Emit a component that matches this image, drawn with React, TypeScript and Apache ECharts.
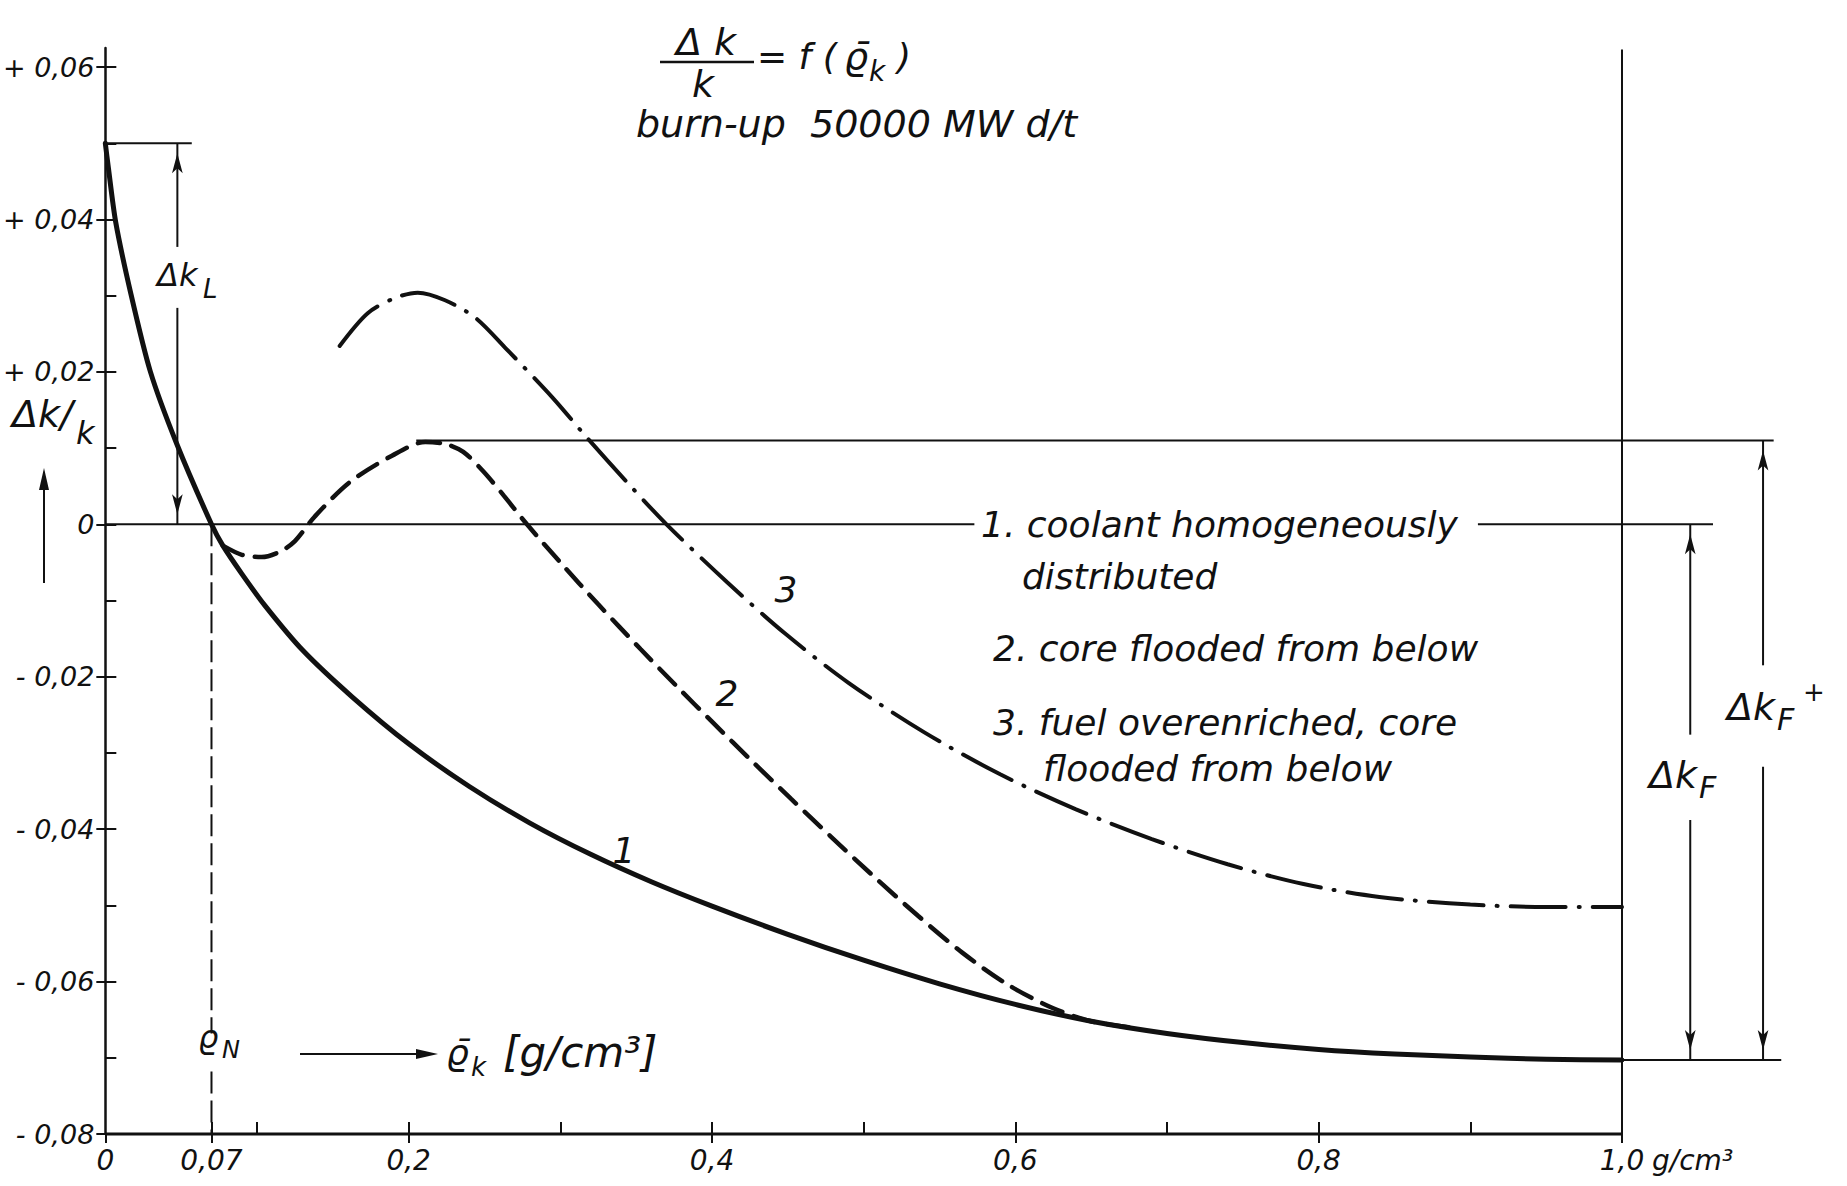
import React, { useEffect, useRef } from 'react';
import * as echarts from 'echarts';

// ---- Data ----
const rho1 = [0, 0.002, 0.0068, 0.0169, 0.0296, 0.047, 0.07, 0.0775, 0.09, 0.105, 0.13, 0.1625, 0.2, 0.24, 0.28, 0.32, 0.36, 0.4, 0.45, 0.5, 0.55, 0.6, 0.65, 0.7, 0.75, 0.8, 0.85, 0.9, 0.95, 1.0];
const dk1 = [0.05, 0.0468, 0.0397, 0.0302, 0.0201, 0.0106, 0, -0.0028, -0.0065, -0.0106, -0.0165, -0.0226, -0.0288, -0.0344, -0.0392, -0.0433, -0.0469, -0.0501, -0.0538, -0.0572, -0.0603, -0.063, -0.0652, -0.0668, -0.068, -0.0689, -0.0695, -0.0699, -0.0702, -0.0703];

const rho2 = [0.0775, 0.09, 0.103, 0.115, 0.125, 0.138, 0.161, 0.189, 0.211, 0.225, 0.236, 0.249, 0.263, 0.278, 0.3, 0.325, 0.353, 0.377, 0.4, 0.427, 0.452, 0.478, 0.505, 0.536, 0.565, 0.595, 0.625, 0.65, 0.675];
const dk2 = [-0.0028, -0.004, -0.0043, -0.0036, -0.0022, 0.001, 0.0055, 0.009, 0.0108, 0.0105, 0.0095, 0.007, 0.0037, 0, -0.005, -0.0105, -0.0164, -0.0213, -0.0259, -0.0312, -0.036, -0.0409, -0.0459, -0.0514, -0.0562, -0.0604, -0.0635, -0.0652, -0.066];

const rho3 = [0.1545, 0.173, 0.191, 0.206, 0.224, 0.244, 0.264, 0.295, 0.317, 0.345, 0.37, 0.41, 0.448, 0.49, 0.54, 0.59, 0.64, 0.69, 0.74, 0.79, 0.84, 0.9, 0.95, 1.0];
const dk3 = [0.0234, 0.0277, 0.0297, 0.0304, 0.0294, 0.0271, 0.0231, 0.0166, 0.0115, 0.0053, 0, -0.0076, -0.0143, -0.0208, -0.0273, -0.0328, -0.0374, -0.0413, -0.0446, -0.0472, -0.0489, -0.0499, -0.0502, -0.0502];

const xLabelValues = [0, 0.07, 0.2, 0.4, 0.6, 0.8, 1.0];
const xLabelTexts = ['0', '0,07', '0,2', '0,4', '0,6', '0,8', '1,0'];
const xMinorTicks = [0.1, 0.3, 0.5, 0.7, 0.9];
const yLabelValues = [-0.08, -0.06, -0.04, -0.02, 0, 0.02, 0.04, 0.06];
const yLabelTexts = ['- 0,08', '- 0,06', '- 0,04', '- 0,02', '0', '+ 0,02', '+ 0,04', '+ 0,06'];
const yMinorTicks = [-0.07, -0.05, -0.03, -0.01, 0.01, 0.03, 0.05];

// reference levels
const rhoN = 0.07;
const dkL = 0.05;
const dkPeak = 0.011;
const dkFloor = -0.0703;
const xEnd = 1.0;
const xMax = 1.12;
const yMin = -0.08;
const yMax = 0.0625;

const INK = '#111';
const FONT = '"DejaVu Sans", sans-serif';

const pick = (vals: number[], texts: string[]) => (v: number) => {
  const i = vals.findIndex((a) => Math.abs(a - v) < 1e-6);
  return i >= 0 ? texts[i] : '';
};

const zip = (a: number[], b: number[]) => a.map((x, i) => [x, b[i]]);

function seg(points: number[][], width = 2, type: any = 'solid', z = 3) {
  return {
    type: 'line', data: points, symbol: 'none', silent: true, clip: false, z,
    lineStyle: { color: INK, width, type, cap: 'butt' },
  };
}

function arrowSeg(x: number, yFrom: number, yTo: number) {
  const up = yTo > yFrom;
  return {
    type: 'line', clip: false, silent: true, symbol: 'none', showSymbol: true, showAllSymbol: true, z: 4,
    lineStyle: { color: INK, width: 2 },
    itemStyle: { color: INK },
    data: [
      { value: [x, yFrom], symbol: 'none' },
      { value: [x, yTo], symbol: 'arrow', symbolSize: [8, 20], symbolRotate: up ? 0 : 180, symbolOffset: [0, up ? '50%' : '-50%'] },
    ],
  };
}

function txt(text: string, x: number, y: number, size: number, align = 'left') {
  return {
    type: 'text', x, y, silent: true, z: 10,
    style: {
      text, fontSize: size, fontFamily: FONT, fontStyle: 'italic', fill: INK,
      align, textAlign: align, verticalAlign: 'middle', textVerticalAlign: 'middle',
    },
  };
}

export default function App() {
  const ref = useRef<HTMLDivElement>(null);
  useEffect(() => {
    if (!ref.current) return;
    const chart = echarts.init(ref.current, null, { renderer: 'svg' });
    const axisFont = { fontFamily: FONT, fontStyle: 'italic', color: INK };
    const option: any = {
      animation: false,
      backgroundColor: '#fff',
      grid: { left: 105, right: 43, top: 48, bottom: 52, containLabel: false },
      xAxis: [
        {
          type: 'value', min: 0, max: xMax, position: 'bottom',
          axisLine: { show: false, onZero: false },
          axisTick: { show: true, inside: false, length: 9, customValues: xLabelValues, lineStyle: { color: INK, width: 2 } },
          axisLabel: { show: true, customValues: xLabelValues, formatter: pick(xLabelValues, xLabelTexts), margin: 12, fontSize: 28, ...axisFont },
          splitLine: { show: false },
        },
        {
          type: 'value', min: 0, max: xMax, position: 'bottom',
          axisLine: { show: false, onZero: false },
          axisTick: { show: true, inside: true, length: 12, customValues: [...xLabelValues.slice(1), ...xMinorTicks], lineStyle: { color: INK, width: 2 } },
          axisLabel: { show: false },
          splitLine: { show: false },
        },
      ],
      yAxis: [
        {
          type: 'value', min: yMin, max: yMax, position: 'left',
          axisLine: { show: true, onZero: false, lineStyle: { color: INK, width: 2.5 } },
          axisTick: { show: true, inside: false, length: 9, customValues: yLabelValues, lineStyle: { color: INK, width: 2 } },
          axisLabel: { show: true, customValues: yLabelValues, formatter: pick(yLabelValues, yLabelTexts), margin: 11, fontSize: 27, ...axisFont },
          splitLine: { show: false },
        },
        {
          type: 'value', min: yMin, max: yMax, position: 'left',
          axisLine: { show: false, onZero: false },
          axisTick: { show: true, inside: true, length: 11, customValues: [...yLabelValues, ...yMinorTicks], lineStyle: { color: INK, width: 2 } },
          axisLabel: { show: false },
          splitLine: { show: false },
        },
      ],
      series: [
        { type: 'line', name: '1', data: zip(rho1, dk1), symbol: 'none', smooth: 0.25, clip: false, z: 5,
          lineStyle: { color: INK, width: 5, cap: 'round', join: 'round' } },
        { type: 'line', name: '2', data: zip(rho2, dk2), symbol: 'none', smooth: 0.3, clip: false, z: 5,
          lineStyle: { color: INK, width: 4.5, type: [22, 12], cap: 'round' } },
        { type: 'line', name: '3', data: zip(rho3, dk3), symbol: 'none', smooth: 0.3, clip: false, z: 5,
          lineStyle: { color: INK, width: 4, type: [55, 13, 1, 13], cap: 'round' } },
        // x axis line (ends at 1,0)
        seg([[0, yMin], [xEnd, yMin]], 3),
        // reference lines
        seg([[0, 0], [0.573, 0]]),
        seg([[0.905, 0], [1.06, 0]]),
        seg([[0.205, dkPeak], [1.1, dkPeak]]),
        seg([[xEnd, dkFloor], [1.105, dkFloor]]),
        seg([[0, dkL], [0.057, dkL]]),
        seg([[xEnd, yMin], [xEnd, 0.0623]]),
        seg([[rhoN, 0], [rhoN, -0.0668]], 2, [22, 7]),
        seg([[rhoN, -0.0718], [rhoN, yMin]], 2, [22, 7]),
        // dimension arrows
        arrowSeg(0.0475, 0.0364, dkL),
        arrowSeg(0.0475, 0.0284, 0),
        arrowSeg(1.045, -0.0276, 0),
        arrowSeg(1.045, -0.0388, dkFloor),
        arrowSeg(1.093, -0.0185, dkPeak),
        arrowSeg(1.093, -0.0318, dkFloor),
      ],
      graphic: [
        // title
        txt('Δ k', 706, 42, 38, 'center'),
        { type: 'line', silent: true, shape: { x1: 660, y1: 62, x2: 754, y2: 62 }, style: { stroke: INK, lineWidth: 2.5 } },
        txt('k', 703, 84, 38, 'center'),
        txt('= f (', 757, 56, 36),
        txt('ϱ\u0304', 844, 56, 38),
        txt('k', 869, 71, 28),
        txt(')', 897, 56, 36),
        txt('burn-up  50000 MW d/t', 636, 124, 38),
        // legend
        txt('1. coolant homogeneously', 981, 524, 36),
        txt('distributed', 1022, 576, 36),
        txt('2. core flooded from below', 993, 648, 36),
        txt('3. fuel overenriched, core', 993, 722, 36),
        txt('flooded from below', 1043, 768, 36),
        // curve labels
        txt('1', 624, 850, 36, 'center'),
        txt('2', 727, 693, 36, 'center'),
        txt('3', 786, 589, 36, 'center'),
        // y name
        txt('Δk/', 12, 414, 38),
        txt('k', 76, 433, 32),
        { type: 'line', silent: true, shape: { x1: 44, y1: 583, x2: 44, y2: 486 }, style: { stroke: INK, lineWidth: 2 } },
        { type: 'polygon', silent: true, shape: { points: [[44, 468], [49, 490], [39, 490]] }, style: { fill: INK } },
        // Δk_L
        txt('Δk', 157, 275, 32),
        txt('L', 203, 289, 26),
        // ρN and x name
        txt('ϱ', 198, 1037, 32),
        txt('N', 222, 1050, 24),
        { type: 'line', silent: true, shape: { x1: 300, y1: 1054, x2: 420, y2: 1054 }, style: { stroke: INK, lineWidth: 2 } },
        { type: 'polygon', silent: true, shape: { points: [[438, 1054], [416, 1059], [416, 1049]] }, style: { fill: INK } },
        txt('ϱ\u0304', 446, 1052, 36),
        txt('k', 471, 1067, 26),
        txt('[g/cm³]', 503, 1052, 42),
        txt('g/cm³', 1652, 1160, 28),
        // Δk_F, Δk_F+
        txt('Δk', 1649, 775, 38),
        txt('F', 1699, 787, 30),
        txt('Δk', 1727, 707, 38),
        txt('F', 1777, 719, 30),
        txt('+', 1803, 692, 26),
      ],
    };
    chart.setOption(option);
    return () => chart.dispose();
  }, []);
  return <div ref={ref} style={{ position: 'fixed', left: 0, top: 0, width: 1847, height: 1186, background: '#fff' }} />;
}
